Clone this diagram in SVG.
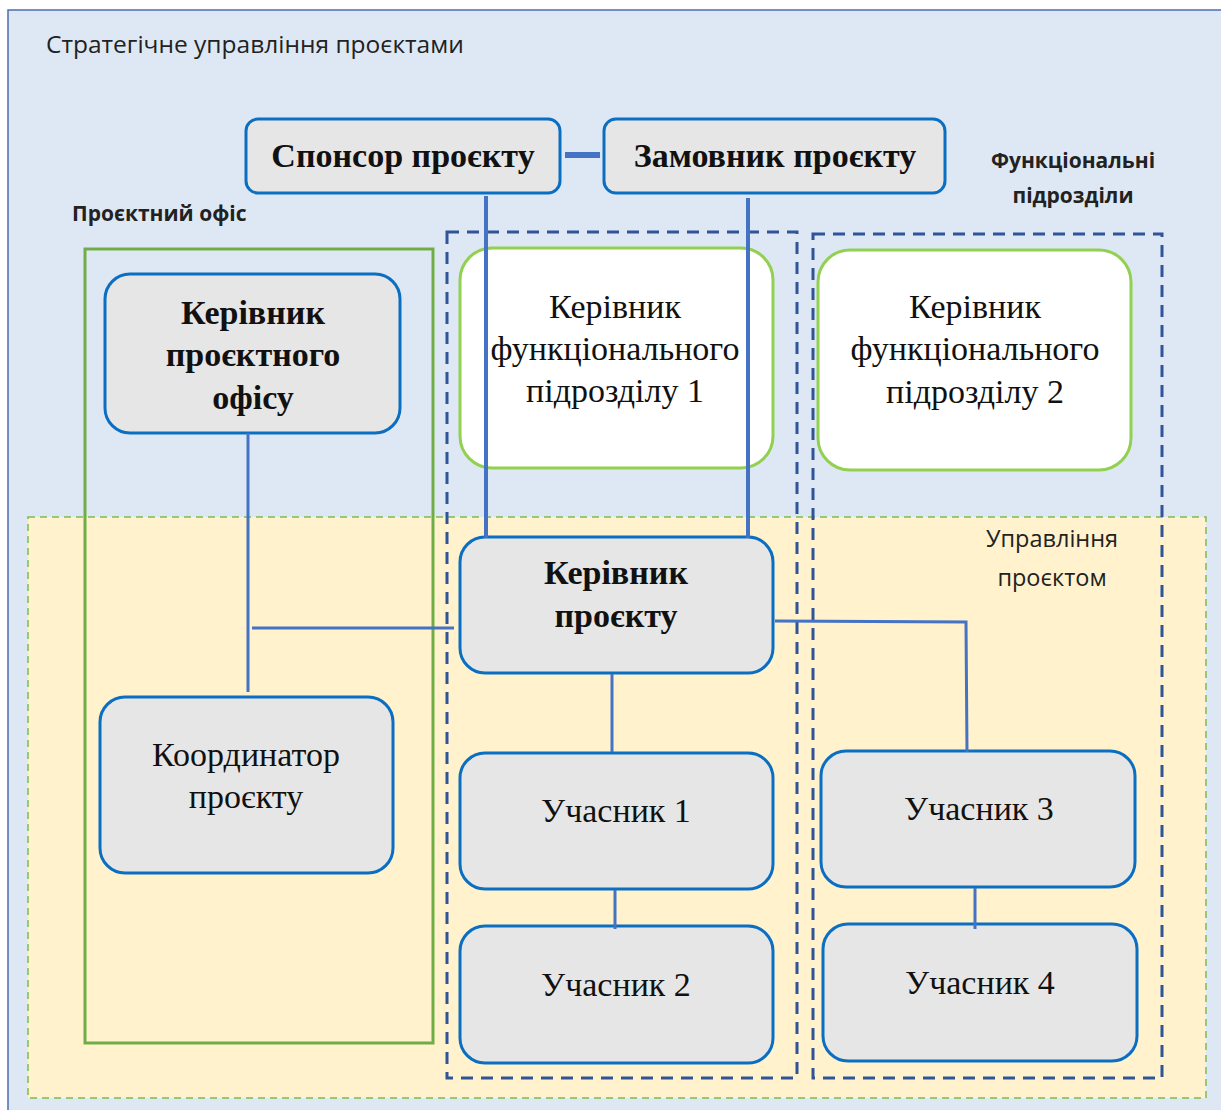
<svg xmlns="http://www.w3.org/2000/svg" width="1221" height="1110" viewBox="0 0 1221 1110">
<style>
.box{fill:#e6e6e6;stroke:#0a6fc2;stroke-width:3}
.fbox{fill:#ffffff;stroke:#92d050;stroke-width:3}
.st{font-family:"Liberation Serif",serif;font-size:34px;fill:#111;text-anchor:middle}
.b{font-weight:bold}
.sans{font-family:"Open Sans","Liberation Sans",sans-serif;fill:#222}
.con{stroke:#4472c4;fill:none}
.dash{fill:none;stroke:#2f5597;stroke-width:3;stroke-dasharray:12 8}
</style>
<rect x="8" y="10" width="1220" height="1110" fill="#dee8f4" stroke="#4a6eb0" stroke-width="1.5"/>
<rect x="28" y="517" width="1178" height="581" fill="#fff2cc" stroke="#7fba4e" stroke-width="1.5" stroke-dasharray="7 5"/>
<text class="sans" x="46" y="53" font-size="24.5">Стратегічне управління проєктами</text>
<text class="sans b" x="72" y="221" font-size="21">Проєктний офіс</text>
<text class="sans b" x="1073" y="168" font-size="21" text-anchor="middle">Функціональні</text>
<text class="sans b" x="1073" y="203" font-size="21" text-anchor="middle">підрозділи</text>
<text class="sans" x="1052" y="547" font-size="23.5" text-anchor="middle">Управління</text>
<text class="sans" x="1052" y="586" font-size="23.5" text-anchor="middle">проєктом</text>

<g id="office-frame"><rect x="85" y="249" width="348" height="794" fill="none" stroke="#70ad47" stroke-width="3"/></g>
<g id="func-group-1"><rect class="dash" x="447" y="232" width="350" height="846"/></g>
<g id="func-group-2"><rect class="dash" x="813" y="234" width="349" height="844"/></g>

<g id="sponsor"><rect class="box" x="246" y="119" width="314" height="74" rx="12"/>
<text class="st b" x="403" y="167">Спонсор проєкту</text></g>
<g id="customer"><rect class="box" x="604" y="119" width="341" height="74" rx="12"/>
<text class="st b" x="775" y="167">Замовник проєкту</text></g>
<g id="office-head"><rect class="box" x="105" y="274" width="295" height="159" rx="25"/>
<text class="st b" x="253" y="324" font-size="31.5">Керівник</text>
<text class="st b" x="253" y="366" font-size="31.5">проєктного</text>
<text class="st b" x="253" y="409" font-size="31.5">офісу</text></g>
<g id="coordinator"><rect class="box" x="100" y="697" width="293" height="176" rx="25"/>
<text class="st" x="246" y="766">Координатор</text>
<text class="st" x="246" y="808">проєкту</text></g>
<g id="func-head-1"><rect class="fbox" x="460" y="248" width="313" height="220" rx="32"/>
<text class="st" x="615" y="318">Керівник</text>
<text class="st" x="615" y="360">функціонального</text>
<text class="st" x="615" y="402">підрозділу 1</text></g>
<g id="func-head-2"><rect class="fbox" x="818" y="250" width="313" height="220" rx="32"/>
<text class="st" x="975" y="318">Керівник</text>
<text class="st" x="975" y="360">функціонального</text>
<text class="st" x="975" y="403">підрозділу 2</text></g>
<g id="project-manager"><rect class="box" x="460" y="537" width="313" height="136" rx="25"/>
<text class="st b" x="616" y="584">Керівник</text>
<text class="st b" x="616" y="627">проєкту</text></g>
<g id="member-1"><rect class="box" x="460" y="753" width="313" height="136" rx="25"/>
<text class="st" x="616" y="822">Учасник 1</text></g>
<g id="member-2"><rect class="box" x="460" y="926" width="313" height="137" rx="25"/>
<text class="st" x="616" y="996">Учасник 2</text></g>
<g id="member-3"><rect class="box" x="821" y="751" width="314" height="136" rx="25"/>
<text class="st" x="979" y="820">Учасник 3</text></g>
<g id="member-4"><rect class="box" x="823" y="924" width="314" height="137" rx="25"/>
<text class="st" x="980" y="994">Учасник 4</text></g>

<g id="connectors">
<line class="con" x1="565" y1="155" x2="600" y2="155" stroke-width="6"/>
<line class="con" x1="486" y1="196" x2="486" y2="538" stroke-width="4"/>
<line class="con" x1="748" y1="198" x2="748" y2="538" stroke-width="4"/>
<line class="con" x1="248" y1="433" x2="248" y2="692" stroke-width="3"/>
<line class="con" x1="252" y1="628" x2="454" y2="628" stroke-width="3"/>
<polyline class="con" points="775,621 966,622 967,752" stroke-width="3"/>
<line class="con" x1="612" y1="674" x2="612" y2="752" stroke-width="3"/>
<line class="con" x1="615" y1="890" x2="615" y2="929" stroke-width="3"/>
<line class="con" x1="975" y1="888" x2="975" y2="929" stroke-width="3"/>
</g>
</svg>
